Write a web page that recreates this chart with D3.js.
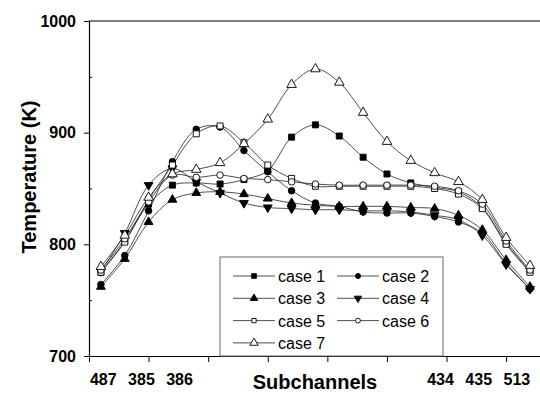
<!DOCTYPE html>
<html><head><meta charset="utf-8">
<script src="https://cdn.jsdelivr.net/npm/d3@7"></script>
<style>body{margin:0;background:#fff} svg{display:block;font-family:"Liberation Sans",Arial,sans-serif}</style>
</head><body><svg id="c" width="540" height="395"></svg>
<script>
// ---- data ----
const pointIndex = d3.range(19);
const subchannelLabels = ["487","385","386","434","435","513"];
const labelPositions = [0.1,1.7,3.3,14.25,15.85,17.45];
const yTicks = [700,800,900,1000];
const yMinorTicks = [750,850,950];
const xTicks = [-0.5,2,4.5,7,9.5,12,14.5,17];
const seriesNames = ["case 1","case 2","case 3","case 4","case 5","case 6","case 7"];
const case1 = [775,803,836,853,855,854,858,866,896,907,897,878,863,855,851,847,833,801,776];
const case2 = [764,790,830,874,903,905,884,865,848,837,834,829,828,828,825,820,810,783,760];
const case3 = [762,787,820,840,846,847,845,841,837,835,834,834,834,833,832,826,813,786,762];
const case4 = [776,810,853,868,856,846,837,833,832,831,831,830,830,829,826,822,808,782,760];
const case5 = [775,802,840,871,899,906,891,871,859,852,852,852,852,852,850,845,832,800,775];
const case6 = [777,805,838,862,860,862,859,858,856,854,853,853,853,853,852,848,836,803,777];
const case7 = [780,808,842,863,867,873,890,912,943,957,945,918,892,875,864,856,840,806,781];
const allCases = [case1,case2,case3,case4,case5,case6,case7];

// ---- styling ----
const shapes = [
  {type:d3.symbolSquare, fill:"#000", rot:0, size:36, lsize:22},
  {type:d3.symbolCircle, fill:"#000", rot:0, size:34, lsize:20},
  {type:d3.symbolTriangle, fill:"#000", rot:0, size:34, lsize:24},
  {type:d3.symbolTriangle, fill:"#000", rot:180, size:34, lsize:24},
  {type:d3.symbolSquare, fill:"#fff", rot:0, size:36, lsize:18},
  {type:d3.symbolCircle, fill:"#fff", rot:0, size:34, lsize:18},
  {type:d3.symbolTriangle, fill:"#fff", rot:0, size:40, lsize:30}
];

const svg = d3.select("#c");
const x = d3.scaleLinear().domain([-0.5,18.4]).range([89,539.5]);
const y = d3.scaleLinear().domain([700,1000]).range([356,21]);

// frame top
svg.append("line").attr("x1",x(-0.5)).attr("x2",540).attr("y1",y(1000)).attr("y2",y(1000))
  .attr("stroke","#000").attr("stroke-width",1.2);

// y axis
const ya = svg.append("g").attr("transform",`translate(${x(-0.5)},0)`)
  .call(d3.axisLeft(y).tickValues(yTicks).tickSize(5).tickPadding(8).tickFormat(d3.format("d")));
ya.select(".domain").attr("stroke-width",1.2);
ya.selectAll("text").attr("font-size",16).attr("font-weight","bold").attr("font-family","Liberation Sans, Arial, sans-serif").attr("fill","#000");
svg.append("g").attr("transform",`translate(${x(-0.5)},0)`)
  .call(d3.axisRight(y).tickValues(yMinorTicks).tickSize(3).tickFormat(""))
  .select(".domain").remove();

// x axis
const xa = svg.append("g").attr("transform",`translate(0,${y(700)})`)
  .call(d3.axisBottom(x).tickValues(xTicks).tickSize(6).tickSizeOuter(0).tickFormat(""));
xa.select(".domain").attr("stroke-width",1.2);

svg.append("g").selectAll("text").data(subchannelLabels).join("text")
  .attr("x",(d,i)=>x(labelPositions[i])).attr("y",385)
  .attr("text-anchor","middle").attr("font-size",16).attr("font-weight","bold").text(d=>d);

svg.append("text").attr("x",315).attr("y",389).attr("text-anchor","middle")
  .attr("font-size",20).attr("font-weight","bold").text("Subchannels");
svg.append("text").attr("transform","translate(36,177) rotate(-90)").attr("text-anchor","middle")
  .attr("font-size",20).attr("font-weight","bold").text("Temperature (K)");

// lines
const line = d3.line().x((d,i)=>x(pointIndex[i])).y(d=>y(d)).curve(d3.curveCatmullRom.alpha(0.5));
svg.append("g").selectAll("path").data(allCases).join("path")
  .attr("d",line).attr("fill","none").attr("stroke","#222").attr("stroke-width",0.8);

// markers
allCases.forEach((vals,k)=>{
  const s = shapes[k];
  svg.append("g").selectAll("path").data(vals).join("path")
    .attr("d",d3.symbol().type(s.type).size(s.size))
    .attr("transform",(d,i)=>`translate(${x(pointIndex[i])},${y(d)}) rotate(${s.rot})`)
    .attr("fill",s.fill).attr("stroke","#000").attr("stroke-width",0.9);
});

// legend
const lg = svg.append("g").attr("transform","translate(220,257)");
lg.append("rect").attr("x",0).attr("y",0).attr("width",223).attr("height",y(700)-257)
  .attr("fill","#fff").attr("stroke","#666").attr("stroke-width",1);
seriesNames.forEach((name,k)=>{
  const col = k%2, row = Math.floor(k/2);
  const gx = 13 + col*104, gy = 19 + row*22.3;
  const s = shapes[k];
  const g = lg.append("g").attr("transform",`translate(${gx},${gy})`);
  g.append("line").attr("x1",0).attr("x2",42).attr("y1",0).attr("y2",0).attr("stroke","#222").attr("stroke-width",0.8);
  g.append("path").attr("d",d3.symbol().type(s.type).size(s.lsize)).attr("transform",`translate(21,0) rotate(${s.rot})`)
    .attr("fill",s.fill).attr("stroke","#000").attr("stroke-width",0.9);
  g.append("text").attr("x",45).attr("y",6).attr("font-size",16).text(name);
});
</script></body></html>
